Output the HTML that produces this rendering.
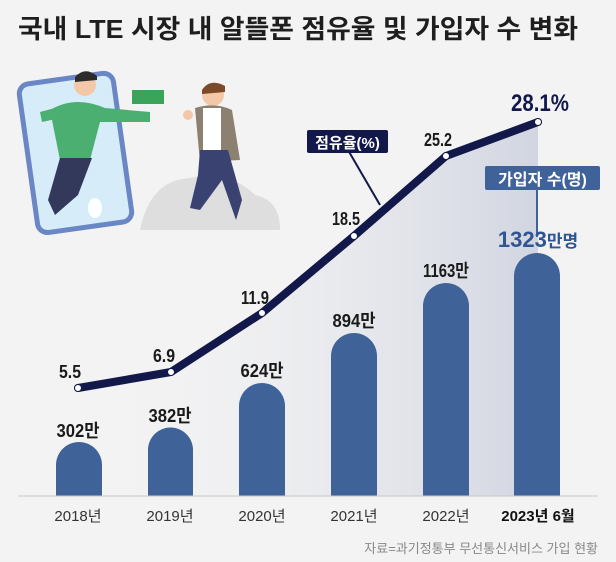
<!DOCTYPE html>
<html><head><meta charset="utf-8"><style>
body{margin:0;background:#f3f3f3;}
svg{display:block}
text{font-family:"Liberation Sans","Noto Sans CJK KR",sans-serif;}
</style></head><body>
<svg width="616" height="562" viewBox="0 0 616 562">
<defs>
<linearGradient id="g" x1="0" y1="0" x2="1" y2="0">
<stop offset="0" stop-color="#f3f3f3" stop-opacity="0"/>
<stop offset="1" stop-color="#c9cedd"/>
</linearGradient>
</defs>
<rect width="616" height="562" fill="#f3f3f3"/>
<text x="18" y="38" font-size="26" font-weight="bold" fill="#1e1e1e" textLength="560" lengthAdjust="spacingAndGlyphs">국내 LTE 시장 내 알뜰폰 점유율 및 가입자 수 변화</text>
<!-- illustration -->
<path d="M140 230 Q150 180 190 178 Q230 170 255 195 Q280 200 280 230 Z" fill="#dedede"/>
<rect x="28" y="78" width="95" height="150" rx="10" fill="#d6ecf8" stroke="#6a86c4" stroke-width="5" transform="rotate(-8 75 153)"/>
<ellipse cx="95" cy="208" rx="7" ry="10" fill="#fff"/>
<circle cx="85" cy="85" r="11" fill="#f2c8a8"/>
<path d="M75 77 Q85 66 97 76 L97 80 L75 82Z" fill="#2c2c2c"/>
<path d="M50 110 Q75 95 105 108 L150 112 L150 122 L100 122 L90 160 L60 160 Z" fill="#4caf72"/>
<path d="M40 112 L55 108 L60 118 L42 122Z" fill="#4caf72"/>
<path d="M60 158 L92 158 L78 195 L55 215 L48 200 Z" fill="#33395a"/>
<rect x="132" y="90" width="32" height="14" fill="#3aa55a"/>
<circle cx="213" cy="95" r="11" fill="#f2c8a8"/>
<path d="M202 90 Q210 78 225 86 L225 92 L202 94Z" fill="#7a4a2a"/>
<path d="M195 108 Q215 102 232 110 L240 160 L200 162 Z" fill="#8c8070"/>
<rect x="203" y="108" width="18" height="45" fill="#fff"/>
<path d="M200 150 L228 150 L242 200 L236 220 L222 180 L200 210 L190 208 L198 175Z" fill="#3a4272"/>
<circle cx="188" cy="115" r="5" fill="#f2c8a8"/>
<!-- shading -->
<path d="M78 388 L171 372 L262 313 L354 236 L446 156 L538 122 L538 496 L78 496Z" fill="url(#g)" opacity="0.8"/>
<!-- bars -->
<g fill="#3f6399">
<path d="M56 496 V465 A23 23 0 0 1 102 465 V496Z"/>
<path d="M148 496 V450 A22.5 22.5 0 0 1 193 450 V496Z"/>
<path d="M239 496 V406 A23 23 0 0 1 285 406 V496Z"/>
<path d="M331 496 V356 A23 23 0 0 1 377 356 V496Z"/>
<path d="M423 496 V306 A23 23 0 0 1 469 306 V496Z"/>
<path d="M514 496 V276 A23 23 0 0 1 560 276 V496Z"/>
</g>
<line x1="18" y1="496" x2="598" y2="496" stroke="#c8c8c8" stroke-width="1"/>
<!-- pointers -->
<line x1="348" y1="150" x2="380" y2="205" stroke="#12194a" stroke-width="2"/>
<rect x="307" y="130" width="81" height="23" rx="2" fill="#12194a"/>
<text x="347.5" y="148" font-size="15" font-weight="bold" fill="#fff" text-anchor="middle">점유율(%)</text>
<line x1="537" y1="188" x2="537" y2="237" stroke="#3f6399" stroke-width="2"/>
<rect x="485" y="166" width="115" height="24" rx="2" fill="#3f6399"/>
<text x="542.5" y="185" font-size="16" font-weight="bold" fill="#fff" text-anchor="middle">가입자 수(명)</text>
<!-- line -->
<polyline points="78,388 171,372 262,313 354,236 446,156 538,122" fill="none" stroke="#12194a" stroke-width="8" stroke-linejoin="round" stroke-linecap="round"/>
<g fill="#fff" stroke="#12194a" stroke-width="1">
<circle cx="78" cy="388" r="3.5"/><circle cx="171" cy="372" r="3.5"/><circle cx="262" cy="313" r="3.5"/>
<circle cx="354" cy="236" r="3.5"/><circle cx="446" cy="156" r="3.5"/><circle cx="538" cy="122" r="3.5"/>
</g>
<g font-size="18" fill="#1a1a1a" text-anchor="middle" font-weight="bold" lengthAdjust="spacingAndGlyphs">
<text x="70" y="378" textLength="22" lengthAdjust="spacingAndGlyphs">5.5</text>
<text x="164" y="362" textLength="22" lengthAdjust="spacingAndGlyphs">6.9</text>
<text x="255" y="304" textLength="28" lengthAdjust="spacingAndGlyphs">11.9</text>
<text x="346" y="225" textLength="28" lengthAdjust="spacingAndGlyphs">18.5</text>
<text x="438" y="146" textLength="28" lengthAdjust="spacingAndGlyphs">25.2</text>
<text x="78" y="437" textLength="43" lengthAdjust="spacingAndGlyphs">302만</text>
<text x="170" y="422" textLength="43" lengthAdjust="spacingAndGlyphs">382만</text>
<text x="262" y="377" textLength="43" lengthAdjust="spacingAndGlyphs">624만</text>
<text x="354" y="327" textLength="43" lengthAdjust="spacingAndGlyphs">894만</text>
<text x="446" y="277" textLength="46" lengthAdjust="spacingAndGlyphs">1163만</text>
</g>
<text x="540" y="111" font-size="24" font-weight="bold" fill="#12194a" text-anchor="middle" textLength="58" lengthAdjust="spacingAndGlyphs">28.1%</text>
<text x="538" y="247" font-size="22" font-weight="bold" fill="#2f5593" text-anchor="middle">1323<tspan font-size="17">만명</tspan></text>
<g font-size="15" fill="#333" text-anchor="middle">
<text x="78" y="521">2018년</text><text x="170" y="521">2019년</text><text x="262" y="521">2020년</text>
<text x="354" y="521">2021년</text><text x="446" y="521">2022년</text>
<text x="538" y="521" font-weight="bold" fill="#111">2023년 6월</text>
</g>
<text x="598" y="553" font-size="13" fill="#888" text-anchor="end">자료=과기정통부 무선통신서비스 가입 현황</text>
</svg>
</body></html>
